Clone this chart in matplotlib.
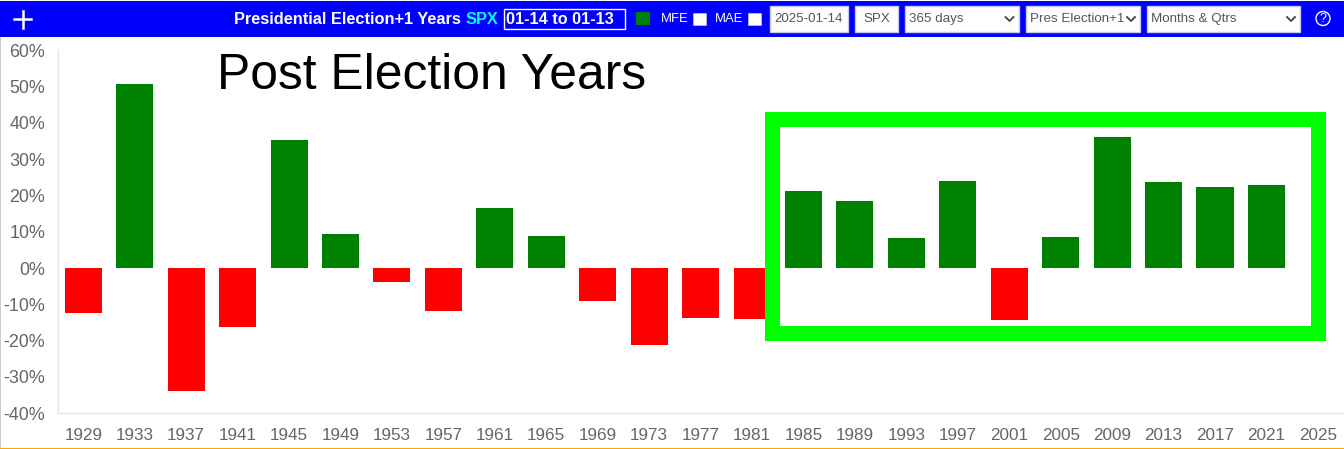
import matplotlib
matplotlib.use('Agg')
import matplotlib.pyplot as plt
from matplotlib.patches import Rectangle
from matplotlib.ticker import FuncFormatter

plt.rcParams['font.family'] = ['Liberation Sans', 'DejaVu Sans']

years = [1929, 1933, 1937, 1941, 1945, 1949, 1953, 1957, 1961, 1965, 1969, 1973,
         1977, 1981, 1985, 1989, 1993, 1997, 2001, 2005, 2009, 2013, 2017, 2021, 2025]
returns = [-12.5, 50.7, -33.9, -16.2, 35.3, 9.4, -3.8, -11.8, 16.5, 8.8, -9.1, -21.2,
           -13.8, -14.0, 21.2, 18.5, 8.3, 23.9, -14.3, 8.7, 36.0, 23.7, 22.4, 22.8, 0]
y_ticks = [-40, -30, -20, -10, 0, 10, 20, 30, 40, 50, 60]

W = 1344
H = 449
fig = plt.figure(figsize=(W / 100, H / 100), dpi=100, facecolor='white')

# overlay in pixel coords, y going down like the screenshot
ov = fig.add_axes([0, 0, 1, 1], zorder=5)
ov.set_xlim(0, W)
ov.set_ylim(H, 0)
ov.axis('off')
ov.patch.set_alpha(0)

ax = fig.add_axes([57.6 / W, (H - 413.2) / H, (1343.6 - 57.6) / W, (413.2 - 50.4) / H], zorder=1)
x = list(range(len(years)))
colors = ['#008000' if v >= 0 else '#ff0000' for v in returns]
ax.bar(x, returns, width=0.72, color=colors, linewidth=0)
ax.set_xlim(-0.5, len(years) - 0.5)
ax.set_ylim(-40, 60)
ax.set_xticks(x)
ax.set_xticklabels(years)
ax.set_yticks(y_ticks)
ax.yaxis.set_major_formatter(FuncFormatter(lambda v, p: '%d%%' % v))
ax.tick_params(length=0, labelcolor='#666666')
ax.tick_params(axis='x', pad=10.5, labelsize=12.3)
ax.tick_params(axis='y', pad=9, labelsize=12.9)
for s in ['top', 'right']:
    ax.spines[s].set_visible(False)
for s in ['left', 'bottom']:
    ax.spines[s].set_color('#e6e6e6')
    ax.spines[s].set_linewidth(1)

# page borders
ov.add_patch(Rectangle((0, 37), 1, H - 37, color='#cccccc', lw=0))
ov.add_patch(Rectangle((0, 447.8), W, 1.2, color='#ffa500', lw=0))

# annotation on top of the chart
ov.text(217, 76, 'Post Election Years', fontsize=35.8, color='black', va='center', ha='left')
ov.add_patch(Rectangle((771.5, 118.5), 546, 214, fill=False, ec='#00ff00', lw=10.8, joinstyle='miter'))

# toolbar
ov.add_patch(Rectangle((0, 1), W, 36, color='#0000ff', lw=0))
ov.plot([14, 31], [19, 19], color='white', lw=1.8)
ov.plot([22.5, 22.5], [11, 28], color='white', lw=1.8)
ov.text(234, 19, 'Presidential Election+1 Years', color='white', fontsize=11.8, fontweight='bold', va='center')
ov.text(465.5, 19, 'SPX', color='#00ffff', fontsize=11.8, fontweight='bold', va='center')
ov.add_patch(Rectangle((503.5, 8.5), 121, 20, fill=False, ec='white', lw=1))
ov.text(506, 19, '01-14 to 01-13', color='white', fontsize=11.7, fontweight='bold', va='center')
ov.add_patch(Rectangle((636, 12), 14, 13, color='#008000', lw=0))
ov.text(661, 19, 'MFE', color='white', fontsize=9.4, va='center')
ov.text(715, 19, 'MAE', color='white', fontsize=9.4, va='center')
for cx in [693, 748]:
    ov.add_patch(Rectangle((cx, 12.5), 12.5, 12.5, fc='white', ec='#cccccc', lw=0.5))

widgets = [(770, 78, '2025-01-14', 'center'), (855, 43, 'SPX', 'center'), (905, 113.5, '365 days', 'left'),
           (1026, 114, 'Pres Election+1', 'left'), (1147, 153, 'Months & Qtrs', 'left')]
for wx, ww, label, al in widgets:
    ov.add_patch(Rectangle((wx, 5.5), ww, 26, fc='white', ec='#c8c8e0', lw=1))
    if al == 'center':
        ov.text(wx + ww / 2, 19, label, color='#555555', fontsize=9.6, va='center', ha='center')
    else:
        ov.text(wx + 4, 19, label, color='#555555', fontsize=9.6, va='center', ha='left')
        ax_x = wx + ww - 9
        ov.plot([ax_x - 4, ax_x, ax_x + 4], [17, 21, 17], color='#444444', lw=1.3)

ov.add_patch(plt.Circle((1323, 18.5), 7, fill=False, ec='white', lw=1))
ov.text(1323, 18.5, '?', color='white', fontsize=9, va='center', ha='center')

fig.savefig('out.png', dpi=100)
